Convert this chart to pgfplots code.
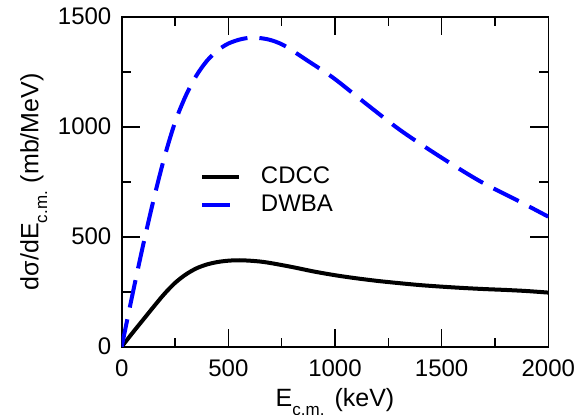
\documentclass[border=0pt]{standalone}
\usepackage{fontspec}
\setmainfont{Liberation Sans}
\usepackage{pgfplots}
\pgfplotsset{compat=1.18}
\usetikzlibrary{calc}

\begin{document}
\begin{tikzpicture}
\begin{axis}[
  scale only axis, width=213.3pt, height=165pt,
  xmin=0, xmax=2000, ymin=0, ymax=1500,
  xtick={0,500,1000,1500,2000}, ytick={0,500,1000,1500},
  minor tick num=1, tick align=inside,
  major tick length=9pt, minor tick length=4.5pt,
  axis line style={line width=0.8pt},
  every tick/.style={line width=0.8pt,black},
  scaled ticks=false,
  /pgf/number format/assume math mode=true,
  /pgf/number format/1000 sep={},
  ticklabel style={font=\fontsize{12}{14}\selectfont},
  xticklabel style={anchor=base,yshift=-15pt,inner sep=0pt},
  yticklabel style={anchor=east,xshift=-5pt,inner sep=0pt},
  every axis x label/.style={at={(axis description cs:0.5,-0.1818)},anchor=base,inner sep=0pt,font=\fontsize{12.5}{15}\selectfont},
  every axis y label/.style={at={(axis description cs:-0.1735,0.5)},rotate=90,anchor=south,inner sep=0pt,font=\fontsize{12.5}{15}\selectfont},
  xlabel={E\raisebox{-0.35em}{\fontsize{8.5}{10}\selectfont c.m.}\hspace{5pt}(keV)},
  ylabel={dσ/dE\raisebox{-0.35em}{\fontsize{8.5}{10}\selectfont c.m.}\hspace{4pt}(mb/MeV)},
  legend style={draw=none,fill=none,at={(axis cs:367,818)},anchor=north west,
    inner sep=0pt,row sep=4pt,column sep=10pt,
    font=\fontsize{12}{14}\selectfont,nodes={inner sep=0pt}},
  legend cell align=left,
  legend image code/.code={\draw[#1] (0pt,0pt) -- (18.3pt,0pt);},
]
\addplot[black,line width=2pt,smooth] coordinates {
 (0,0) (50,62) (100,122) (150,182) (200,240) (250,290) (300,328)
 (350,356) (400,374) (450,385) (500,391) (550,393) (600,391)
 (650,387) (700,380) (800,362) (900,342) (1000,325) (1100,311)
 (1200,299) (1300,289) (1400,280) (1500,273) (1600,267) (1700,262)
 (1800,258) (1900,253) (2000,246)};
\addlegendentry{CDCC}
\addplot[blue,line width=2pt,smooth,dash pattern=on 14pt off 6pt] coordinates {
 (0,0) (50,235) (100,460) (150,670) (200,860) (250,1020) (300,1140)
 (350,1232) (400,1300) (450,1347) (500,1378) (560,1398) (620,1405)
 (690,1396) (760,1370) (867,1303) (992,1222) (1133,1114) (1305,985)
 (1492,864) (1680,752) (1867,659) (2000,591)};
\addlegendentry{DWBA}
\end{axis}
\pgfresetboundingbox
\path ($(current axis.south west)+(-60.85pt,-33.65pt)$) rectangle ($(current axis.north east)+(19.35pt,8.35pt)$);
\end{tikzpicture}
\end{document}
